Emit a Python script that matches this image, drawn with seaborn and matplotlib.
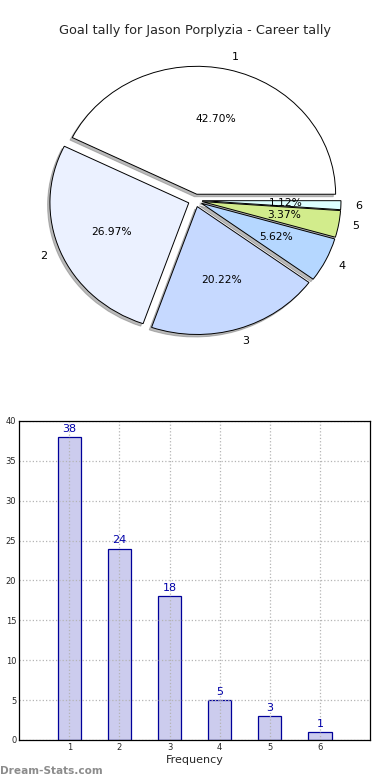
import matplotlib
matplotlib.use("Agg")
import matplotlib.pyplot as plt
import seaborn as sns
import pandas as pd

categories = ["1", "2", "3", "4", "5", "6"]
goals = [38, 24, 18, 5, 3, 1]
pie_colors = ["#ffffff", "#ebf1ff", "#c6d9ff", "#b5d7ff", "#d2ec8c", "#ddffff"]
title = "Goal tally for Jason Porplyzia - Career tally"
xlabel = "Frequency"
yticks = [0, 5, 10, 15, 20, 25, 30, 35, 40]

sns.set_theme(style="white")
plt.rcParams['font.family'] = ['DejaVu Sans']

fig = plt.figure(figsize=(3.9, 7.8), dpi=100)

# Pie
ax1 = fig.add_axes([0.0555, 0.538, 0.89, 0.41])
wedges, texts, autotexts = ax1.pie(
    goals, labels=categories, colors=pie_colors, explode=[0.05] * len(goals),
    autopct="%1.2f%%", shadow={"ox": -0.012, "oy": -0.014, "color": "#777777"},
    startangle=0,
    wedgeprops=dict(edgecolor="black", linewidth=0.7),
    textprops=dict(fontsize=8, color="black"))
for t in autotexts:
    t.set_fontsize(7.7)
ax1.set_aspect("auto")
ax1.set_xlim(-1.25, 1.25)
ax1.set_ylim(-1.25, 1.25)
fig.text(0.5, 0.961, title, ha="center", va="center", fontsize=9.3)

# Bar
ax2 = fig.add_axes([0.049, 0.0513, 0.9, 0.409])
df = pd.DataFrame({"cat": [int(c) for c in categories], "goals": goals})
sns.barplot(data=df, x="cat", y="goals", native_scale=True, width=0.46,
            color="#ccccee", edgecolor="#000099", linewidth=0.9, ax=ax2,
            saturation=1, errorbar=None)
for p, v in zip(ax2.patches, goals):
    ax2.text(p.get_x() + p.get_width() / 2, v + 0.4, str(v), ha="center", va="bottom",
             fontsize=8, color="#0000aa")
ax2.set_xlim(0, 7)
ax2.set_ylim(0, 40)
ax2.set_xticks([int(c) for c in categories])
ax2.set_xticklabels(categories, fontsize=6)
ax2.set_yticks(yticks)
ax2.set_yticklabels([str(t) for t in yticks], fontsize=6)
ax2.set_xlabel(xlabel, fontsize=8, labelpad=2)
ax2.set_ylabel("")
ax2.grid(True, linestyle=":", color="#b4b4b4", linewidth=0.9)
ax2.set_axisbelow(False)
for s in ax2.spines.values():
    s.set_color("black")
    s.set_linewidth(0.9)
    s.set_zorder(5)
ax2.tick_params(axis="both", length=2, pad=2, direction="in")

fig.text(0.0, 0.012, "Dream-Stats.com", ha="left", va="center", fontsize=7.6,
         color="#8c8c8c", fontweight="bold")

fig.savefig("out.png", dpi=100)
